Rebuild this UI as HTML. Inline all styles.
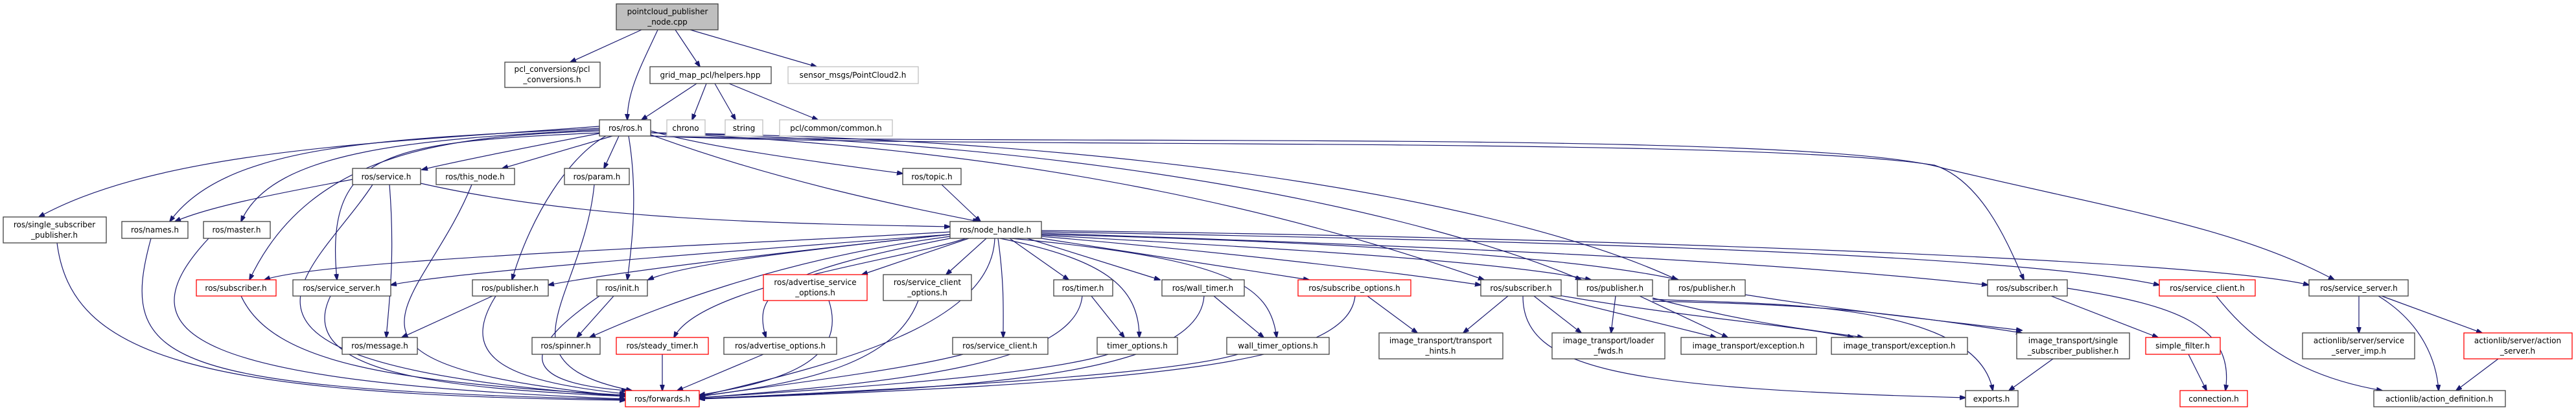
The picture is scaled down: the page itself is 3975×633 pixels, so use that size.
<!DOCTYPE html>
<html><head><meta charset="utf-8"><style>
html,body{margin:0;padding:0;background:#fff}
svg{display:block}
text{font-family:"DejaVu Sans","Liberation Sans",sans-serif;font-size:12px;fill:#000;text-anchor:middle}
.n{fill:#fff;stroke:#404040;stroke-width:1.3}
.r{fill:#fff;stroke:#ff0000;stroke-width:1.3}
.g{fill:#fff;stroke:#bfbfbf;stroke-width:1.3}
.e path{fill:none;stroke:#191970;stroke-width:1.2;marker-end:url(#a)}
</style></head><body>
<svg width="3975" height="633" viewBox="0 0 3975 633" xmlns="http://www.w3.org/2000/svg">
<defs><marker id="a" markerWidth="10" markerHeight="8" refX="9" refY="3.5" orient="auto" markerUnits="userSpaceOnUse"><path d="M0,0 L10,3.5 L0,7 z" fill="#191970" stroke="#191970"/></marker></defs>
<g class="e">
<path d="M990,46 L880,96"/>
<path d="M1015,46 C990,100 968,140 968,185"/>
<path d="M1042,46 L1080,103"/>
<path d="M1065,46 L1260,103"/>
<path d="M1075,129 L990,185"/>
<path d="M1090,129 L1068,185"/>
<path d="M1103,129 L1135,185"/>
<path d="M1125,129 L1262,185"/>
<path d="M930,205 C800,230 700,250 651,262"/>
<path d="M945,210 L775,260"/>
<path d="M955,210 L932,260"/>
<path d="M1004,202 C1100,230 1300,255 1393,268"/>
<path d="M925,195 C600,220 250,230 60,335"/>
<path d="M925,198 C600,215 350,220 262,342"/>
<path d="M925,200 C650,215 420,230 372,342"/>
<path d="M1004,208 C1200,280 1400,320 1510,342"/>
<path d="M925,202 C700,210 480,230 385,432"/>
<path d="M925,205 C600,220 500,230 520,432"/>
<path d="M935,210 C880,240 820,330 790,432"/>
<path d="M970,210 C985,300 975,380 968,432"/>
<path d="M1004,205 C1600,230 2000,330 2290,432"/>
<path d="M1004,205 C1700,220 2200,330 2440,432"/>
<path d="M1004,205 C1800,215 2350,320 2588,432"/>
<path d="M1004,210 C1500,230 2700,210 2985,255 C3060,280 3100,380 3123,432"/>
<path d="M1004,210 C1600,225 2800,200 3000,260 C3250,320 3450,350 3602,432"/>
<path d="M544,277 C420,300 320,320 270,342"/>
<path d="M575,285 C480,430 250,560 965,612"/>
<path d="M601,285 C610,400 600,470 596,521"/>
<path d="M649,283 C900,340 1200,345 1466,350"/>
<path d="M728,285 C650,480 450,560 965,612"/>
<path d="M917,285 C900,460 760,560 975,603"/>
<path d="M88,375 C110,550 300,610 965,618"/>
<path d="M233,368 C180,560 250,600 965,617"/>
<path d="M322,368 C180,520 300,590 965,616"/>
<path d="M1453,285 L1513,342"/>
<path d="M1466,358 C1100,380 500,400 408,432"/>
<path d="M1466,362 C1100,390 700,420 603,440"/>
<path d="M1466,362 C1200,390 950,420 846,440"/>
<path d="M1466,362 C1200,390 1050,410 1000,432"/>
<path d="M1495,368 L1330,424"/>
<path d="M1522,368 L1460,424"/>
<path d="M1558,368 L1649,432"/>
<path d="M1585,368 L1790,432"/>
<path d="M1607,368 L2020,432"/>
<path d="M1607,365 C1900,390 2150,420 2285,440"/>
<path d="M1607,363 C1900,380 2300,400 2455,432"/>
<path d="M1607,362 C1950,370 2400,390 2590,432"/>
<path d="M1607,360 C2200,380 2700,400 3067,440"/>
<path d="M1607,358 C2300,370 3100,390 3332,440"/>
<path d="M1607,356 C2400,365 3400,400 3563,440"/>
<path d="M1466,365 C1200,400 1000,480 910,521"/>
<path d="M1490,368 C1400,400 1080,440 1040,521"/>
<path d="M1466,368 C1200,420 1160,450 1182,521"/>
<path d="M1540,368 C1550,440 1548,480 1548,521"/>
<path d="M1543,368 C1700,400 1758,440 1758,521"/>
<path d="M1560,368 C1900,400 1960,440 1970,521"/>
<path d="M1535,368 C1530,500 1300,560 1079,612"/>
<path d="M372,457 C420,560 600,590 965,610"/>
<path d="M510,457 C450,580 700,600 965,612"/>
<path d="M760,457 L620,521"/>
<path d="M765,457 C700,560 800,590 965,608"/>
<path d="M947,457 L890,521"/>
<path d="M925,457 C820,530 780,590 968,603"/>
<path d="M1279,464 C1310,560 1200,590 1079,610"/>
<path d="M1417,464 C1380,560 1250,590 1079,612"/>
<path d="M1684,457 L1735,521"/>
<path d="M1670,457 C1660,560 1400,590 1079,614"/>
<path d="M1873,457 L1950,521"/>
<path d="M1858,457 C1850,580 1500,600 1079,615"/>
<path d="M2110,457 L2187,514"/>
<path d="M2091,457 C2080,560 1800,590 1079,616"/>
<path d="M2327,457 L2258,514"/>
<path d="M2367,457 L2440,514"/>
<path d="M2390,457 L2648,521"/>
<path d="M2400,455 C2600,490 2750,500 2860,521"/>
<path d="M2350,457 C2350,570 2500,600 3033,614"/>
<path d="M2493,457 L2486,514"/>
<path d="M2530,457 L2666,521"/>
<path d="M2550,460 C2700,500 2800,510 2875,521"/>
<path d="M2550,465 C2800,470 2900,480 3120,514"/>
<path d="M2550,462 C2700,470 3050,460 3075,603"/>
<path d="M2693,455 C2850,480 2950,490 3120,510"/>
<path d="M3165,457 L3330,521"/>
<path d="M3190,445 C3350,470 3450,500 3434,603"/>
<path d="M3420,457 C3500,560 3600,590 3676,603"/>
<path d="M3640,457 L3640,514"/>
<path d="M3670,457 C3740,500 3760,560 3763,603"/>
<path d="M3675,457 L3830,514"/>
<path d="M3855,554 L3790,603"/>
<path d="M3168,554 L3100,603"/>
<path d="M3377,547 L3405,603"/>
<path d="M1022,547 L1022,603"/>
<path d="M1178,547 L1045,603"/>
<path d="M1486,547 C1400,570 1200,595 1079,612"/>
<path d="M1710,547 C1600,580 1300,600 1079,614"/>
<path d="M1910,547 C1800,580 1400,600 1079,616"/>
</g>
<g>
<rect x="951" y="6" width="157" height="40" fill="#bfbfbf" stroke="#404040" stroke-width="1.3"/><text x="1030" y="22">pointcloud_publisher</text><text x="1030" y="38">_node.cpp</text>
<rect class="n" x="779" y="96" width="147" height="39"/><text x="852" y="111">pcl_conversions/pcl</text><text x="852" y="127">_conversions.h</text>
<rect class="n" x="1003" y="103" width="187" height="26"/><text x="1096" y="120">grid_map_pcl/helpers.hpp</text>
<rect class="g" x="1216" y="103" width="201" height="26"/><text x="1316" y="120">sensor_msgs/PointCloud2.h</text>
<rect class="n" x="925" y="185" width="79" height="25"/><text x="965" y="202">ros/ros.h</text>
<rect class="g" x="1029" y="185" width="59" height="25"/><text x="1058" y="202">chrono</text>
<rect class="g" x="1119" y="185" width="58" height="25"/><text x="1148" y="202">string</text>
<rect class="g" x="1203" y="185" width="174" height="25"/><text x="1290" y="202">pcl/common/common.h</text>
<rect class="n" x="544" y="260" width="105" height="25"/><text x="596" y="277">ros/service.h</text>
<rect class="n" x="673" y="260" width="121" height="25"/><text x="733" y="277">ros/this_node.h</text>
<rect class="n" x="871" y="260" width="100" height="25"/><text x="921" y="277">ros/param.h</text>
<rect class="n" x="1393" y="260" width="90" height="25"/><text x="1438" y="277">ros/topic.h</text>
<rect class="n" x="5" y="335" width="159" height="40"/><text x="84" y="351">ros/single_subscriber</text><text x="84" y="367">_publisher.h</text>
<rect class="n" x="188" y="342" width="102" height="26"/><text x="239" y="359">ros/names.h</text>
<rect class="n" x="314" y="342" width="103" height="26"/><text x="365" y="359">ros/master.h</text>
<rect class="n" x="1466" y="342" width="141" height="26"/><text x="1536" y="359">ros/node_handle.h</text>
<rect class="r" x="303" y="432" width="123" height="25"/><text x="364" y="449">ros/subscriber.h</text>
<rect class="n" x="452" y="432" width="151" height="25"/><text x="527" y="449">ros/service_server.h</text>
<rect class="n" x="729" y="432" width="117" height="25"/><text x="787" y="449">ros/publisher.h</text>
<rect class="n" x="921" y="432" width="78" height="25"/><text x="960" y="449">ros/init.h</text>
<rect class="r" x="1178" y="424" width="160" height="40"/><text x="1258" y="440">ros/advertise_service</text><text x="1258" y="456">_options.h</text>
<rect class="n" x="1363" y="424" width="136" height="40"/><text x="1431" y="440">ros/service_client</text><text x="1431" y="456">_options.h</text>
<rect class="n" x="1626" y="432" width="91" height="25"/><text x="1671" y="449">ros/timer.h</text>
<rect class="n" x="1793" y="432" width="127" height="25"/><text x="1856" y="449">ros/wall_timer.h</text>
<rect class="r" x="2003" y="432" width="174" height="25"/><text x="2090" y="449">ros/subscribe_options.h</text>
<rect class="n" x="2285" y="432" width="124" height="25"/><text x="2347" y="449">ros/subscriber.h</text>
<rect class="n" x="2434" y="432" width="116" height="25"/><text x="2492" y="449">ros/publisher.h</text>
<rect class="n" x="2575" y="432" width="118" height="25"/><text x="2634" y="449">ros/publisher.h</text>
<rect class="n" x="3067" y="432" width="123" height="25"/><text x="3128" y="449">ros/subscriber.h</text>
<rect class="r" x="3332" y="432" width="148" height="25"/><text x="3406" y="449">ros/service_client.h</text>
<rect class="n" x="3563" y="432" width="153" height="25"/><text x="3640" y="449">ros/service_server.h</text>
<rect class="n" x="528" y="521" width="116" height="26"/><text x="586" y="538">ros/message.h</text>
<rect class="n" x="821" y="521" width="105" height="26"/><text x="873" y="538">ros/spinner.h</text>
<rect class="r" x="951" y="521" width="142" height="26"/><text x="1022" y="538">ros/steady_timer.h</text>
<rect class="n" x="1117" y="521" width="174" height="26"/><text x="1204" y="538">ros/advertise_options.h</text>
<rect class="n" x="1470" y="521" width="147" height="26"/><text x="1543" y="538">ros/service_client.h</text>
<rect class="n" x="1693" y="521" width="124" height="26"/><text x="1755" y="538">timer_options.h</text>
<rect class="n" x="1893" y="521" width="158" height="26"/><text x="1972" y="538">wall_timer_options.h</text>
<rect class="n" x="2128" y="514" width="191" height="40"/><text x="2223" y="530">image_transport/transport</text><text x="2223" y="546">_hints.h</text>
<rect class="n" x="2395" y="514" width="174" height="40"/><text x="2482" y="530">image_transport/loader</text><text x="2482" y="546">_fwds.h</text>
<rect class="n" x="2594" y="521" width="209" height="26"/><text x="2698" y="538">image_transport/exception.h</text>
<rect class="n" x="2826" y="521" width="210" height="26"/><text x="2931" y="538">image_transport/exception.h</text>
<rect class="n" x="3112" y="514" width="174" height="40"/><text x="3199" y="530">image_transport/single</text><text x="3199" y="546">_subscriber_publisher.h</text>
<rect class="r" x="3311" y="521" width="115" height="26"/><text x="3368" y="538">simple_filter.h</text>
<rect class="n" x="3553" y="514" width="173" height="40"/><text x="3640" y="530">actionlib/server/service</text><text x="3640" y="546">_server_imp.h</text>
<rect class="r" x="3802" y="514" width="167" height="40"/><text x="3885" y="530">actionlib/server/action</text><text x="3885" y="546">_server.h</text>
<rect class="r" x="965" y="603" width="114" height="25"/><text x="1022" y="620">ros/forwards.h</text>
<rect class="n" x="3033" y="603" width="81" height="25"/><text x="3073" y="620">exports.h</text>
<rect class="r" x="3364" y="603" width="104" height="25"/><text x="3416" y="620">connection.h</text>
<rect class="n" x="3663" y="603" width="203" height="25"/><text x="3764" y="620">actionlib/action_definition.h</text>
</g>
</svg>
</body></html>
